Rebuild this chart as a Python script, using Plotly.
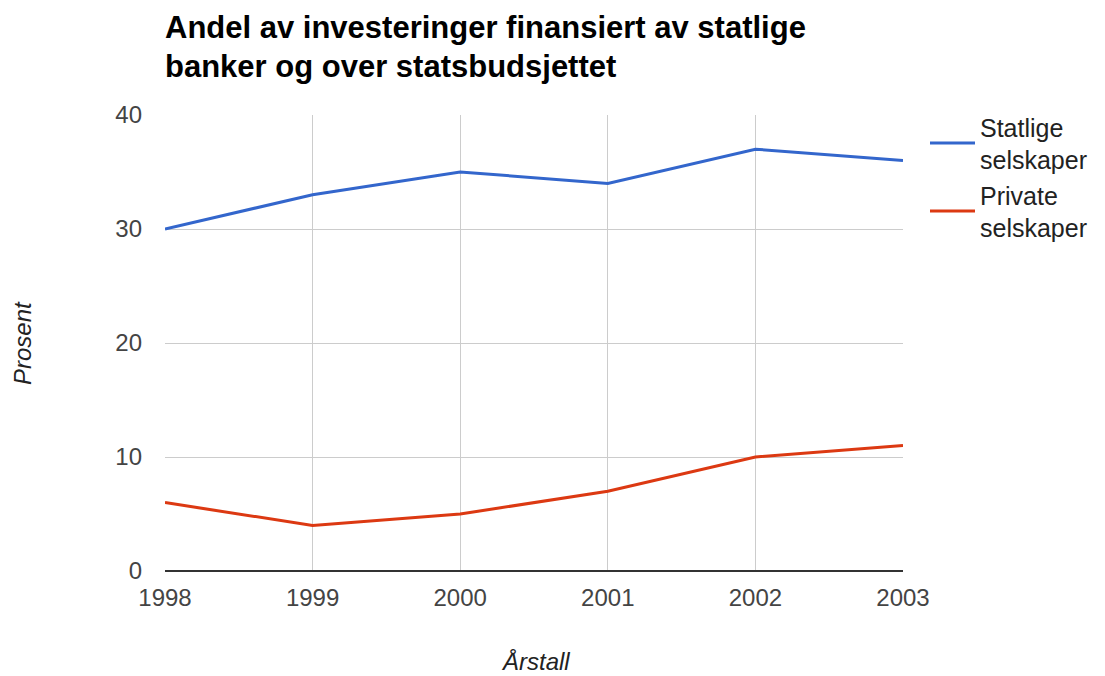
import plotly.graph_objects as go

years = [1998, 1999, 2000, 2001, 2002, 2003]
statlige = [30, 33, 35, 34, 37, 36]
private = [6, 4, 5, 7, 10, 11]
series_names = ["Statlige<br>selskaper", "Private<br>selskaper"]
title_lines = ["Andel av investeringer finansiert av statlige", "banker og over statsbudsjettet"]
y_title = "Prosent"
x_title = "Årstall"

OFF = 8  # page body margin
W, H = 1097, 668
L, T = 157, 107
pw, ph = 738, 456
R = W - L - pw
B = H - T - ph

def px_x(sx):
    return (sx - OFF - L) / pw

def px_y(sy):
    return (T + ph - (sy - OFF)) / ph

FONT = "Liberation Sans, Arial, sans-serif"

fig = go.Figure()
fig.add_trace(go.Scatter(x=years, y=statlige, mode="lines", name=series_names[0],
                         line=dict(color="#3366cc", width=3)))
fig.add_trace(go.Scatter(x=years, y=private, mode="lines", name=series_names[1],
                         line=dict(color="#dc3912", width=3)))

fig.update_layout(
    width=W, height=H,
    margin=dict(l=L, r=R, t=T, b=B),
    paper_bgcolor="white", plot_bgcolor="white",
    font=dict(family=FONT, size=24, color="#444"),
    showlegend=True,
    legend=dict(x=px_x(925), y=px_y(104), xanchor="left", yanchor="top",
                font=dict(size=25, color="#222"), itemwidth=45,
                bgcolor="rgba(0,0,0,0)"),
    xaxis=dict(range=[1998, 2003], tickvals=years, ticktext=[str(y) for y in years],
               showgrid=True, gridcolor="#cccccc", gridwidth=1, zeroline=False,
               showline=False, ticks="", ticklabelstandoff=10,
               tickfont=dict(size=24, color="#444")),
    yaxis=dict(range=[0, 40], dtick=10, showgrid=True, gridcolor="#cccccc", gridwidth=1,
               zeroline=True, zerolinecolor="#333333", zerolinewidth=2,
               showline=False, ticks="", ticklabelstandoff=22,
               tickfont=dict(size=24, color="#444")),
)

# Title lines
fig.add_annotation(text="<b>" + title_lines[0] + "</b>", xref="paper", yref="paper",
                   x=px_x(163), y=px_y(27), xanchor="left", yanchor="middle", showarrow=False,
                   font=dict(family=FONT, size=31, color="#000"))
fig.add_annotation(text="<b>" + title_lines[1] + "</b>", xref="paper", yref="paper",
                   x=px_x(163), y=px_y(67), xanchor="left", yanchor="middle", showarrow=False,
                   font=dict(family=FONT, size=31, color="#000"))
# Axis titles
fig.add_annotation(text="<i>" + y_title + "</i>", xref="paper", yref="paper",
                   x=px_x(22), y=px_y(343), xanchor="center", yanchor="middle", showarrow=False,
                   textangle=-90, font=dict(family=FONT, size=24, color="#222"))
fig.add_annotation(text="<i>" + x_title + "</i>", xref="paper", yref="paper",
                   x=px_x(535), y=px_y(661), xanchor="center", yanchor="middle", showarrow=False,
                   font=dict(family=FONT, size=24, color="#222"))

fig.write_html("out.html")
